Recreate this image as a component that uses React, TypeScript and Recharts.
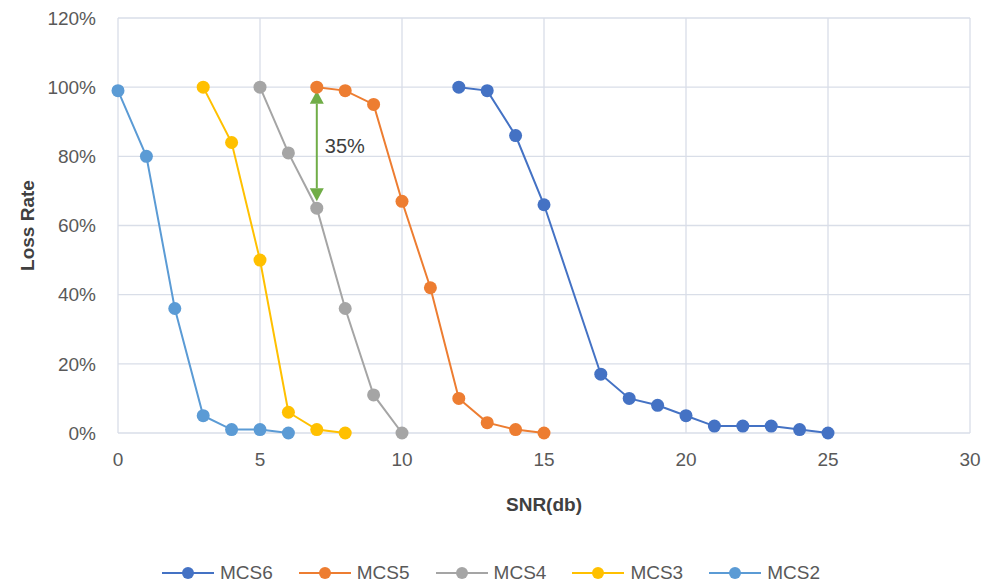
import { LineChart, Line, XAxis, YAxis, CartesianGrid, Legend, ReferenceLine } from 'recharts';

const mcs6Snr = [12, 13, 14, 15, 17, 18, 19, 20, 21, 22, 23, 24, 25];
const mcs6Loss = [1.0, 0.99, 0.86, 0.66, 0.17, 0.1, 0.08, 0.05, 0.02, 0.02, 0.02, 0.01, 0];

const mcs5Snr = [7, 8, 9, 10, 11, 12, 13, 14, 15];
const mcs5Loss = [1.0, 0.99, 0.95, 0.67, 0.42, 0.1, 0.03, 0.01, 0];

const mcs4Snr = [5, 6, 7, 8, 9, 10];
const mcs4Loss = [1.0, 0.81, 0.65, 0.36, 0.11, 0];

const mcs3Snr = [3, 4, 5, 6, 7, 8];
const mcs3Loss = [1.0, 0.84, 0.5, 0.06, 0.01, 0];

const mcs2Snr = [0, 1, 2, 3, 4, 5, 6];
const mcs2Loss = [0.99, 0.8, 0.36, 0.05, 0.01, 0.01, 0];

const xTicks = [0, 5, 10, 15, 20, 25, 30];
const yTicks = [0, 0.2, 0.4, 0.6, 0.8, 1.0, 1.2];

const gapFrom = 0.99;
const gapTo = 0.67;
const gapLabel = '35%';

const toPoints = (snr: number[], loss: number[]) => snr.map((s, i) => ({ snr: s, loss: loss[i] }));

const series = [
  { name: 'MCS6', color: '#4472C4', data: toPoints(mcs6Snr, mcs6Loss) },
  { name: 'MCS5', color: '#ED7D31', data: toPoints(mcs5Snr, mcs5Loss) },
  { name: 'MCS4', color: '#A5A5A5', data: toPoints(mcs4Snr, mcs4Loss) },
  { name: 'MCS3', color: '#FFC000', data: toPoints(mcs3Snr, mcs3Loss) },
  { name: 'MCS2', color: '#5B9BD5', data: toPoints(mcs2Snr, mcs2Loss) },
];

const FONT = '"Liberation Sans", Arial, sans-serif';
const TEXT = '#595959';
const GREEN = '#70AD47';

function GapArrow(props: any) {
  const { x1, y1, x2, y2 } = props;
  const top = Math.min(y1, y2);
  const bottom = Math.max(y1, y2);
  const h = 13;
  const w = 7;
  return (
    <g>
      <line x1={x1} y1={top + h} x2={x2} y2={bottom - h} stroke={GREEN} strokeWidth={2} />
      <polygon points={`${x1},${top} ${x1 - w},${top + h} ${x1 + w},${top + h}`} fill={GREEN} />
      <polygon points={`${x1},${bottom} ${x1 - w},${bottom - h} ${x1 + w},${bottom - h}`} fill={GREEN} />
      <text x={x1 + 8} y={(top + bottom) / 2} dominantBaseline="central" fontSize={20} fontFamily={FONT} fill="#404040">
        {gapLabel}
      </text>
    </g>
  );
}

function LegendContent() {
  return (
    <div style={{ height: 61, paddingTop: 38, paddingLeft: 12, boxSizing: 'border-box', display: 'flex', justifyContent: 'center', gap: 26, fontFamily: FONT, fontSize: 19, color: TEXT }}>
      {series.map((s) => (
        <div key={s.name} style={{ display: 'flex', alignItems: 'center', gap: 6, lineHeight: '22px' }}>
          <svg width={52} height={14}>
            <line x1={0} y1={7} x2={52} y2={7} stroke={s.color} strokeWidth={2} />
            <circle cx={26} cy={7} r={6} fill={s.color} />
          </svg>
          <span>{s.name}</span>
        </div>
      ))}
    </div>
  );
}

export default function App() {
  return (
    <div style={{ position: 'absolute', left: 0, top: 0, background: '#fff' }}>
      <LineChart width={987} height={584} margin={{ top: 18, right: 17, left: 0, bottom: 0 }}>
        <CartesianGrid stroke="#D9DEE8" strokeWidth={1.3} />
        <XAxis
          type="number"
          dataKey="snr"
          domain={[0, 30]}
          ticks={xTicks}
          height={90}
          tickSize={0}
          tickMargin={20}
          axisLine={false}
          tick={{ fontSize: 19, fill: TEXT, fontFamily: FONT }}
          label={{ value: 'SNR(db)', position: 'insideBottom', offset: 12, fontSize: 19, fontWeight: 'bold', fill: '#404040', fontFamily: FONT }}
        />
        <YAxis
          type="number"
          domain={[0, 1.2]}
          ticks={yTicks}
          width={118}
          tickSize={0}
          tickMargin={22}
          axisLine={false}
          tickFormatter={(v: number) => `${Math.round(v * 100)}%`}
          tick={{ fontSize: 19, fill: TEXT, fontFamily: FONT }}
          label={{ value: 'Loss Rate', angle: -90, position: 'insideLeft', offset: 27, textAnchor: 'middle', fontSize: 19, fontWeight: 'bold', fill: '#404040', fontFamily: FONT }}
        />
        <Legend verticalAlign="bottom" content={<LegendContent />} />
        {series.map((s) => (
          <Line
            key={s.name}
            name={s.name}
            data={s.data}
            dataKey="loss"
            type="linear"
            stroke={s.color}
            strokeWidth={2}
            dot={{ r: 6.5, fill: s.color, stroke: s.color, strokeWidth: 0 }}
            activeDot={false}
            isAnimationActive={false}
          />
        ))}
        <ReferenceLine
          segment={[{ x: 7, y: gapFrom }, { x: 7, y: gapTo }]}
          shape={<GapArrow />}
        />
      </LineChart>
    </div>
  );
}
